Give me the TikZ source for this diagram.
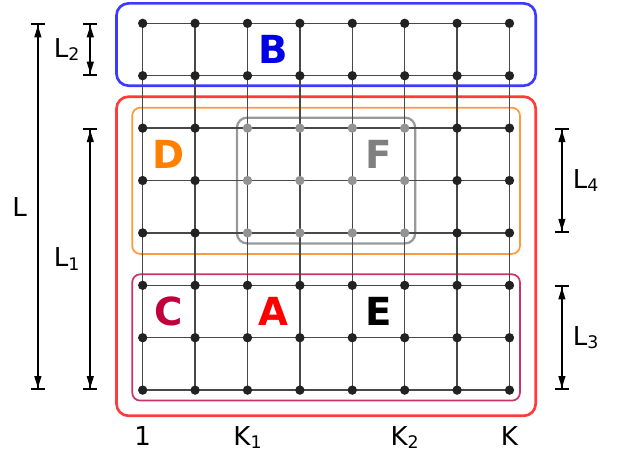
\documentclass[tikz,border=0pt]{standalone}
\usepackage{fontspec}
\setmainfont{DejaVu Sans}
\definecolor{boxblue}{RGB}{59,59,255}
\definecolor{letterblue}{RGB}{0,0,230}
\definecolor{boxred}{RGB}{255,59,59}
\definecolor{letterred}{RGB}{255,0,0}
\definecolor{boxorange}{RGB}{255,154,60}
\definecolor{letterorange}{RGB}{255,128,0}
\definecolor{boxcrimson}{RGB}{204,51,102}
\definecolor{lettercrimson}{RGB}{192,0,60}
\definecolor{boxgray}{RGB}{153,153,153}
\definecolor{lettergray}{RGB}{128,128,128}
\definecolor{gridline}{RGB}{72,72,72}
\definecolor{dotdark}{RGB}{34,34,34}
\usetikzlibrary{arrows.meta, positioning}
\newcommand{\dimsub}[1]{\raisebox{-2.5pt}{\fontsize{13}{13}\selectfont #1}}

\begin{document}
\begin{tikzpicture}[x=39.3pt, y=-39.3pt,
  region/.style={rounded corners=9pt, line width=2pt},
  subregion/.style={rounded corners=6pt, line width=1.3pt},
  lattice/.style={gridline, line width=1pt},
  dot/.style={circle, fill=dotdark, inner sep=0pt, minimum size=7pt},
  dotlight/.style={dot, fill=lettergray!85},
  bigletter/.style={font=\fontsize{29}{29}\selectfont\bfseries, inner sep=0pt},
  dimlabel/.style={font=\fontsize{19.5}{20}\selectfont, inner sep=0pt},
  dimline/.style={line width=1.5pt,
    {Bar[width=10.7pt]Triangle[length=9pt,width=5pt,sep=0pt]}-{Triangle[length=9pt,width=5pt,sep=0pt]Bar[width=10.7pt]}}]
  \useasboundingbox (-2.723,-0.445) rectangle (9.147,8.258);

  % regions
  \draw[region, boxblue] (-0.5,-0.38) rectangle (7.5,1.19);
  \draw[region, boxred] (-0.5,1.4) rectangle (7.5,7.49);
  \draw[subregion, boxorange] (-0.2,1.61) rectangle (7.2,4.4);
  \draw[subregion, boxcrimson] (-0.2,4.79) rectangle (7.2,7.2);
  \draw[region, line width=1.7pt, rounded corners=7.5pt, boxgray] (1.8,1.8) rectangle (5.2,4.2);

  % lattice
  \foreach \i in {0,...,7}
    \foreach \j in {0,...,7}
      \coordinate (g-\i-\j) at (\i,\j);
  \foreach \i in {0,...,7} {
    \draw[lattice] (g-\i-0) -- (g-\i-7);
    \draw[lattice] (g-0-\i) -- (g-7-\i);
  }
  \foreach \i in {0,...,7}
    \foreach \j in {0,...,7} {
      \pgfmathtruncatemacro\inF{and(and(\i>1,\i<6),and(\j>1,\j<5))}
      \ifnum\inF=1 \def\dotstyle{dotlight}\else\def\dotstyle{dot}\fi
      \node[\dotstyle] (p-\i-\j) at (g-\i-\j) {};
    }

  % region letters
  \node[bigletter, letterblue] (B) at (2.5,0.5) {B};
  \node[bigletter, letterorange] (D) at (0.5,2.5) {D};
  \node[bigletter, lettergray] (F) at (4.5,2.5) {F};
  \node[bigletter, lettercrimson] (C) at (0.5,5.5) {C};
  \node[bigletter, letterred] (A) at (2.5,5.5) {A};
  \node[bigletter, black] (E) at (4.5,5.5) {E};

  % dimensions
  \coordinate (dL-a) at (-2,0);  \coordinate (dL-b) at (-2,7);
  \coordinate (dL2-a) at (-1,0); \coordinate (dL2-b) at (-1,1);
  \coordinate (dL1-a) at (-1,2); \coordinate (dL1-b) at (-1,7);
  \coordinate (dL4-a) at (8,2);  \coordinate (dL4-b) at (8,4);
  \coordinate (dL3-a) at (8,5);  \coordinate (dL3-b) at (8,7);
  \draw[dimline] (dL-a) -- node[dimlabel, left=7.5pt] (lab-L) {L} (dL-b);
  \draw[dimline] (dL2-a) -- node[dimlabel, left=7.5pt] (lab-L2) {L\dimsub{2}} (dL2-b);
  \draw[dimline] (dL1-a) -- node[dimlabel, left=7.5pt] (lab-L1) {L\dimsub{1}} (dL1-b);
  \draw[dimline] (dL4-a) -- node[dimlabel, right=7.5pt] (lab-L4) {L\dimsub{4}} (dL4-b);
  \draw[dimline] (dL3-a) -- node[dimlabel, right=7.5pt] (lab-L3) {L\dimsub{3}} (dL3-b);

  % column indices
  \node[dimlabel, anchor=base] (k-one) at (0,8.05) {1};
  \node[dimlabel, anchor=base] (k-K1) at (2,8.05) {K\dimsub{1}};
  \node[dimlabel, anchor=base] (k-K2) at (5,8.05) {K\dimsub{2}};
  \node[dimlabel, anchor=base] (k-K) at (7,8.05) {K};
\end{tikzpicture}
\end{document}
